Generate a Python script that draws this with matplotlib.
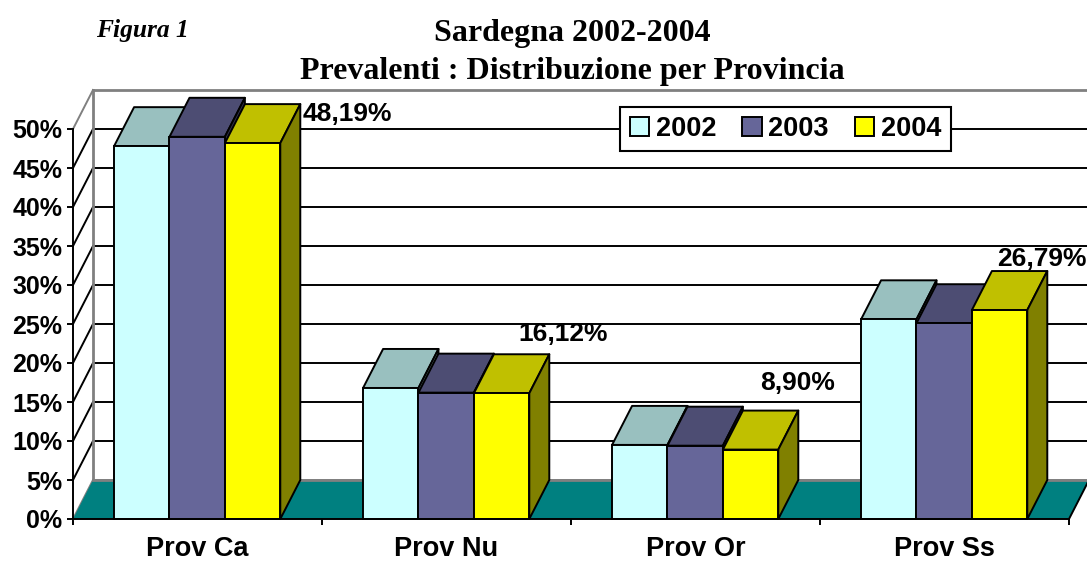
import matplotlib
matplotlib.use('Agg')
import matplotlib.pyplot as plt
from matplotlib.patches import Polygon
from matplotlib.ticker import FuncFormatter

# data
province = ['Prov Ca', 'Prov Nu', 'Prov Or', 'Prov Ss']
years = ['2002', '2003', '2004']
v2002 = [47.8, 16.8, 9.5, 25.6]
v2003 = [49.0, 16.2, 9.4, 25.1]
v2004 = [48.19, 16.12, 8.90, 26.79]
series = [v2002, v2003, v2004]

# hand placed labels of the last series
label_x = [1.10, 1.968, 2.908, 3.892]
label_y = [51.95, 23.75, 17.45, 33.35]

front = ['#CCFFFF', '#666699', '#FFFF00']
top = ['#99C0BF', '#4D4D73', '#C0C000']
side = ['#668080', '#33334D', '#808000']
teal = '#008080'
gray = '#808080'

# fake depth of the 3d box, in data units
dx = 20 / 249
dy = 5
bar_w = 0.2225
bar_start = 0.165

plt.rcParams['font.family'] = ['Liberation Sans', 'DejaVu Sans']
plt.rcParams['font.weight'] = 'bold'

W, H = 1087, 561
fig = plt.figure(figsize=(W / 100, H / 100), dpi=100)
# axes = front plane of the box
ax = fig.add_axes([73 / W, (H - 519) / H, 996 / W, 390 / H])
ax.set_xlim(0, 4)
ax.set_ylim(0, 50)
ax.patch.set_visible(False)
for s in ['top', 'right']:
    ax.spines[s].set_visible(False)
for s in ['left', 'bottom']:
    ax.spines[s].set_linewidth(1.4)
    ax.spines[s].set_zorder(30)

ax.set_yticks(range(0, 55, 5))
ax.yaxis.set_major_formatter(FuncFormatter(lambda v, p: '%d%%' % v))
ax.set_xticks(range(5))
ax.set_xticklabels([])
ax.set_xticks([i + 0.5 for i in range(4)], minor=True)
ax.set_xticklabels(province, minor=True)
ax.tick_params(axis='y', labelsize=18, length=4.5, width=1.4, pad=3)
ax.tick_params(axis='x', which='major', length=4.5, width=1.4)
# pad kept small so the descender of "Prov" stays inside the picture
ax.tick_params(axis='x', which='minor', length=0, labelsize=19.5, pad=12)

# walls and gridlines
for v in range(0, 55, 5):
    c = gray if v in (0, 50) else 'black'
    ax.plot([0, dx], [v, v + dy], color=c, lw=1.4, clip_on=False, zorder=2)
    if v < 50:
        ax.plot([dx, 4 + dx], [v + dy, v + dy], color=c, lw=1.4, clip_on=False, zorder=2)
ax.plot([dx, 4 + dx], [55, 55], color=gray, lw=2, clip_on=False, zorder=2)
ax.plot([dx, dx], [dy, 55], color=gray, lw=2, clip_on=False, zorder=2)

floor = Polygon([(0, 0), (4, 0), (4 + dx, dy), (dx, dy)], closed=True, fc=teal, ec='none',
                clip_on=False, zorder=3)
ax.add_patch(floor)
ax.plot([dx, 4 + dx], [dy, dy], color=gray, lw=2, clip_on=False, zorder=3)
ax.plot([4, 4 + dx], [0, dy], color='black', lw=1.4, clip_on=False, zorder=3)

# bars, left to right so the later ones cover the earlier
z = 5
handles = []
for i in range(4):
    for j in range(3):
        x0 = i + bar_start + j * bar_w
        x1 = x0 + bar_w
        h = series[j][i]
        t = Polygon([(x0, h), (x1, h), (x1 + dx, h + dy), (x0 + dx, h + dy)], closed=True,
                    fc=top[j], ec='black', lw=1.4, joinstyle='round', clip_on=False, zorder=z)
        s = Polygon([(x1, 0), (x1 + dx, dy), (x1 + dx, h + dy), (x1, h)], closed=True,
                    fc=side[j], ec='black', lw=1.4, joinstyle='round', clip_on=False, zorder=z)
        ax.add_patch(t)
        ax.add_patch(s)
        b = ax.bar(x0, h, bar_w, align='edge', color=front[j], edgecolor='black', linewidth=1.4,
                   clip_on=False, zorder=z + 1)
        if i == 0:
            handles.append(b)
        z += 2

for i in range(4):
    txt = ('%.2f%%' % v2004[i]).replace('.', ',')
    ax.text(label_x[i], label_y[i], txt, ha='center', va='center', fontsize=19, zorder=40,
            clip_on=False)

leg = ax.legend(handles, years, loc='center', bbox_to_anchor=(712.5 / 996, 1.0), ncol=3,
                fontsize=19.5, fancybox=False, framealpha=1, edgecolor='black',
                handlelength=0.72, handleheight=0.72, handletextpad=0.25, columnspacing=0.95,
                borderpad=0.34, borderaxespad=0)
leg.get_frame().set_linewidth(1.5)
leg.set_zorder(50)

fig.text(96 / W, 1 - 30 / H, 'Figura 1', family=['Liberation Serif'], style='italic',
         weight='bold', fontsize=18.4, va='center', ha='left')
fig.text(572 / W, 1 - 33 / H, 'Sardegna 2002-2004', family=['Liberation Serif'], weight='bold',
         fontsize=23, va='center', ha='center')
fig.text(572 / W, 1 - 71 / H, 'Prevalenti : Distribuzione per Provincia', family=['Liberation Serif'],
         weight='bold', fontsize=23, va='center', ha='center')

fig.savefig('out.png', dpi=100)
